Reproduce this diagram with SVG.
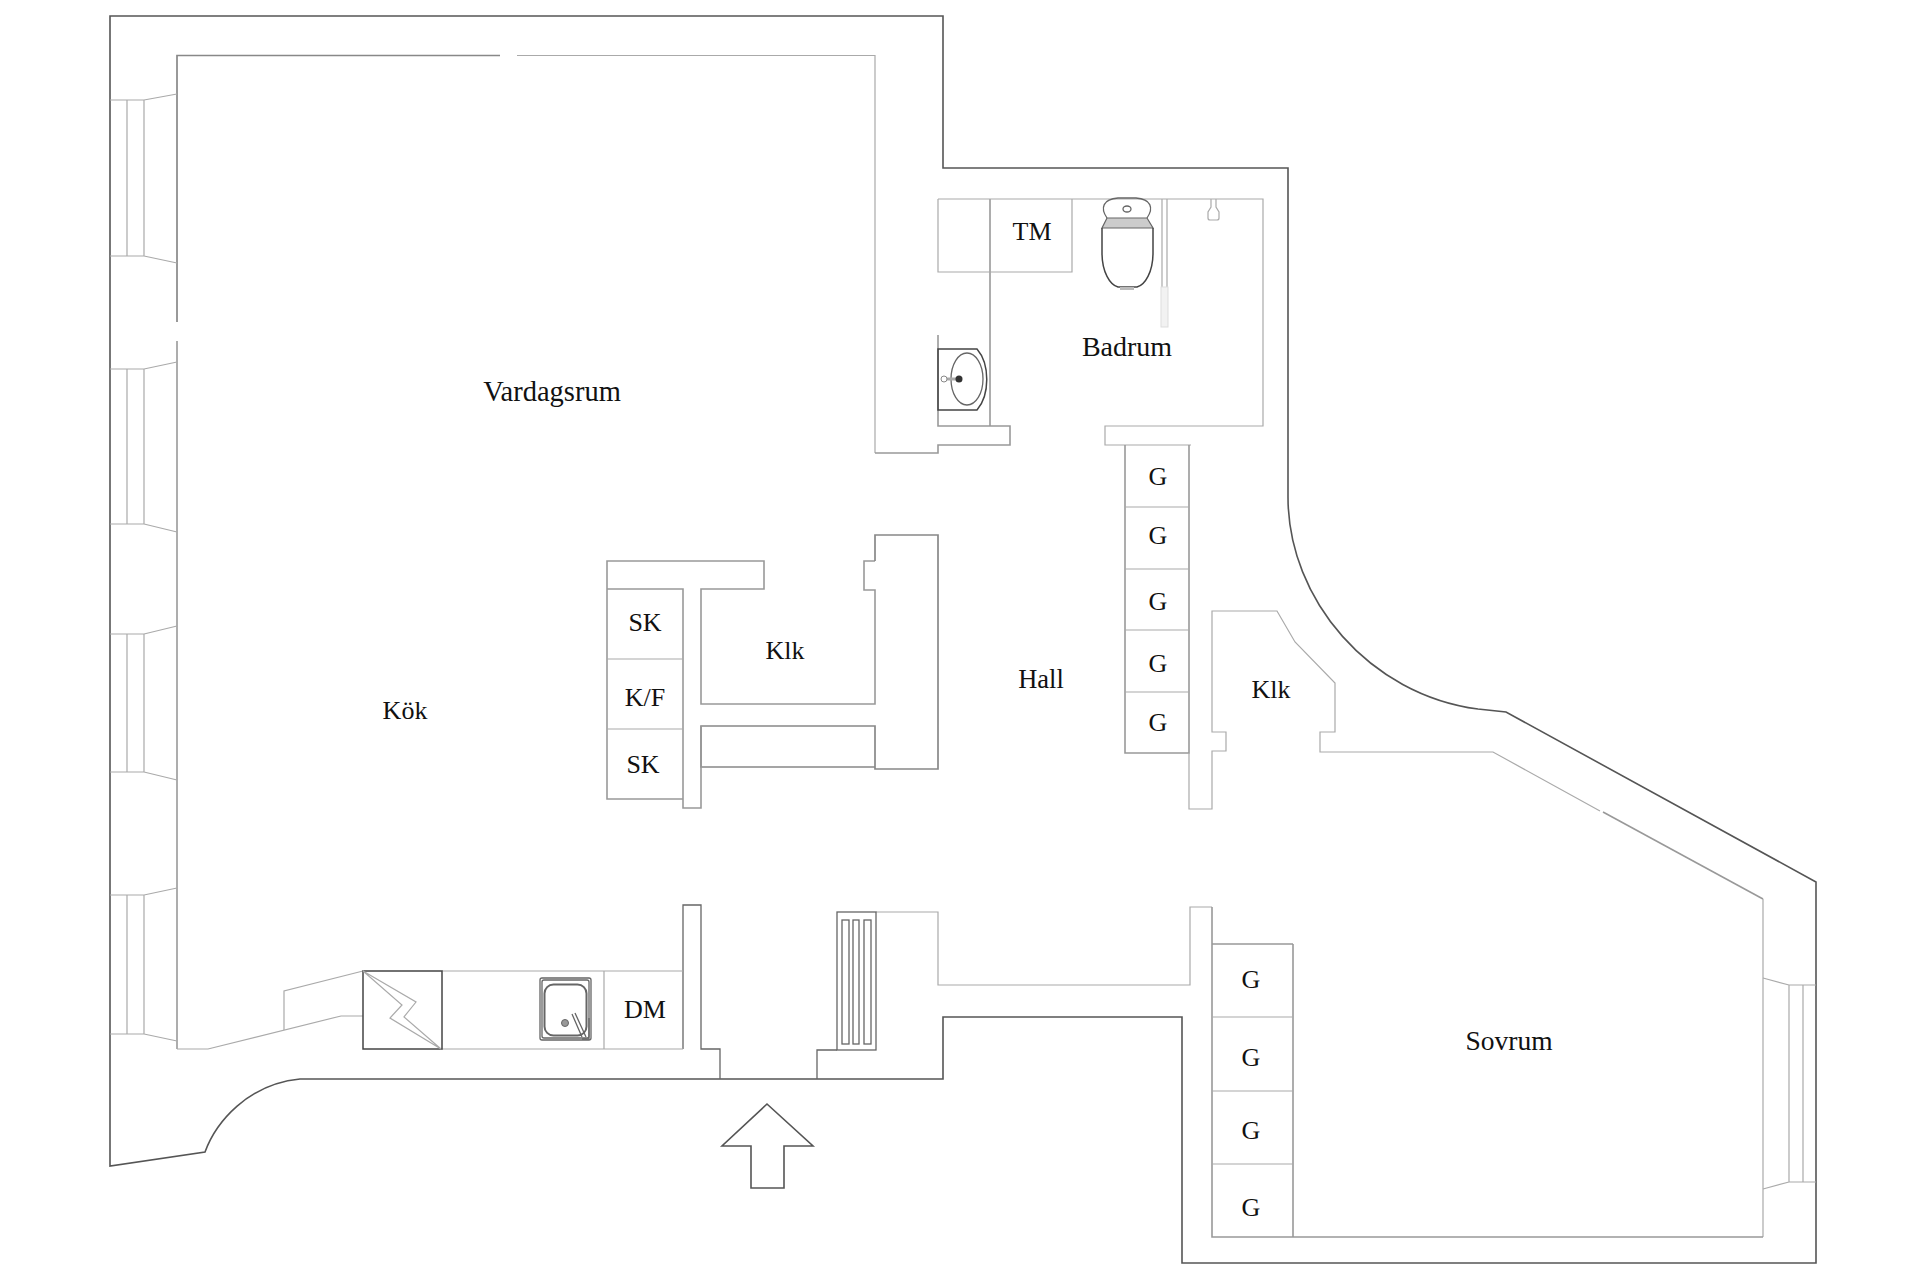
<svg xmlns="http://www.w3.org/2000/svg" width="1920" height="1280" viewBox="0 0 1920 1280">
<style>
.o{fill:none;stroke:#555;stroke-width:1.6}
.w{fill:none;stroke:#999;stroke-width:1.6}
.s{fill:none;stroke:#888;stroke-width:1.7}
.t{fill:none;stroke:#aaa;stroke-width:1.2}
.f{fill:none;stroke:#666;stroke-width:1.3}
.d{fill:none;stroke:#444;stroke-width:1.5}
text{font-family:"Liberation Serif","Times New Roman",serif;font-size:26px;fill:#111;text-anchor:middle}
.big{font-size:27.5px}
</style>
<rect width="1920" height="1280" fill="#fff"/>
<g id="outer-wall">
<path class="o" d="M110 1166V16H943V168H1288V497C1288 600 1370 695 1478 709L1506 712L1816 882V1263H1182V1017H943V1079H300C248 1084 216 1122 205 1152Z"/>
</g>
<g id="inner-walls">
<path class="s" d="M500 55.5H177V322"/>
<path class="w" d="M177 341V1049"/>
<path class="t" d="M177 1049H208L341 1016H363"/>
<path class="t" d="M517 55.5H875V453"/>
<path class="w" d="M875 453H938V445H1010V426H938V335M990 199V426"/>
<path class="t" d="M938 199H1263V426H1105V445H1191"/>
<path class="t" d="M938 199V272H1072V199"/>
<path class="w" d="M1125 445V753H1189V445"/>
<path class="t" d="M1125 507H1189M1125 569H1189M1125 630H1189M1125 692H1189"/>
<path class="t" d="M1189 753V809H1212V751H1226V732H1212V611H1277L1295 642L1335 683V732H1320V752H1493L1600 811"/>
<path class="w" d="M1603 812L1763 899"/>
<path class="t" d="M1763 899V1237M1212 907H1190V985H938V912H876"/>
<path class="w" d="M1212 907V1237H1763M1293 944V1237M1212 944H1293"/>
<path class="t" d="M1212 1017H1293M1212 1091H1293M1212 1164H1293"/>
<path class="f" d="M817 1079V1050H837M720 1079V1049H701V905H683V1049"/>
<path class="t" d="M284 1030V991L363 971M442 971H683M442 1049H683M604 971V1049"/>
</g>
<g id="closet">
<path class="w" d="M683 799H607V561H764V589H701V704H875V590H864V561H875"/>
<path class="s" d="M875 561V535H938V769H875V726H701V767H875"/>
<path class="w" d="M701 726V808H683V589H607"/>
<path class="t" d="M607 659H683M607 729H683"/>
</g>
<g id="windows">
<path class="t" d="M110 100H144V256H110M127 100V256M144 100L177 94M144 256L177 263"/>
<path class="t" d="M110 369H144V524H110M127 369V524M144 369L177 362M144 524L177 532"/>
<path class="t" d="M110 634H144V772H110M127 634V772M144 634L177 626M144 772L177 780"/>
<path class="t" d="M110 895H144V1034H110M127 895V1034M144 895L177 888M144 1034L177 1041"/>
<path class="t" d="M1816 985H1789V1182H1816M1803 985V1182M1763 978L1789 985M1763 1189L1789 1182"/>
</g>
<g id="stove">
<rect class="d" x="363" y="971" width="79" height="78"/>
<path class="t" d="M363 971L416 1002L404 1017L441 1049L390 1018L402 1005Z"/>
</g>
<g id="kitchen-sink">
<rect class="f" x="540" y="978" width="51" height="62" rx="2"/>
<rect class="f" x="542" y="980" width="47" height="58" rx="2" stroke-width="0.8"/>
<rect x="544.5" y="984.5" width="42" height="51" rx="9" fill="none" stroke="#666" stroke-width="2"/>
<circle cx="565" cy="1023" r="3.5" fill="#999" stroke="#666"/>
<path class="f" d="M572 1014L582 1037M575 1013L586 1037M589 1018V1039H582"/>
</g>
<g id="radiator">
<rect class="f" x="837" y="912" width="39" height="138"/>
<rect class="f" x="842" y="920" width="7" height="124"/>
<rect class="f" x="853" y="920" width="6" height="124"/>
<rect class="f" x="864" y="920" width="7" height="124"/>
</g>
<g id="entry-arrow">
<path class="o" d="M767 1104L722 1146H751V1188H784V1146H813Z"/>
</g>
<g id="toilet">
<path class="f" d="M1107 218C1100 208 1103 199 1118 198H1136C1151 199 1154 208 1147 218"/>
<path d="M1107 218H1147L1153 228H1102Z" fill="#ccc" stroke="#666" stroke-width="1.2"/>
<path class="d" d="M1102 228V253C1102 272 1110 285 1118 287H1137C1145 285 1153 272 1153 253V228" stroke-width="1.3"/>
<ellipse class="f" cx="1127" cy="209" rx="4" ry="3"/>
<rect x="1120" y="287" width="14" height="3" fill="#bbb"/>
</g>
<g id="shower-wall">
<path class="t" d="M1162 199V287M1167 199V287"/>
<rect x="1161" y="287" width="7" height="40" fill="#f2f2f2" stroke="#ddd"/>
</g>
<g id="shower-head">
<path class="t" d="M1211 199V207L1208 212V218Q1208 220 1210 220H1217Q1219 220 1219 218V212L1216 207V199"/>
</g>
<g id="basin">
<path class="d" d="M977 349H938V410H977C990 395 990 364 977 349Z"/>
<ellipse class="f" cx="967" cy="379" rx="16" ry="26"/>
<path d="M947 379H958" stroke="#aaa" stroke-width="3"/>
<circle cx="944" cy="379" r="3" fill="#fff" stroke="#888"/>
<circle cx="959" cy="379" r="3.5" fill="#333"/>
</g>
<g id="labels">
<text x="552" y="401" class="big" style="font-size:28.5px">Vardagsrum</text>
<text x="405" y="719">Kök</text>
<text x="1127" y="356" class="big" style="font-size:28px">Badrum</text>
<text x="1032" y="240">TM</text>
<text x="645" y="631">SK</text>
<text x="645" y="706">K/F</text>
<text x="643" y="773">SK</text>
<text x="785" y="659">Klk</text>
<text x="1271" y="698">Klk</text>
<text x="1041" y="688" style="font-size:26.5px">Hall</text>
<text x="1509" y="1050" class="big">Sovrum</text>
<text x="645" y="1018">DM</text>
<text x="1158" y="485">G</text>
<text x="1158" y="544">G</text>
<text x="1158" y="610">G</text>
<text x="1158" y="672">G</text>
<text x="1158" y="731">G</text>
<text x="1251" y="988">G</text>
<text x="1251" y="1066">G</text>
<text x="1251" y="1139">G</text>
<text x="1251" y="1216">G</text>
</g>
</svg>
